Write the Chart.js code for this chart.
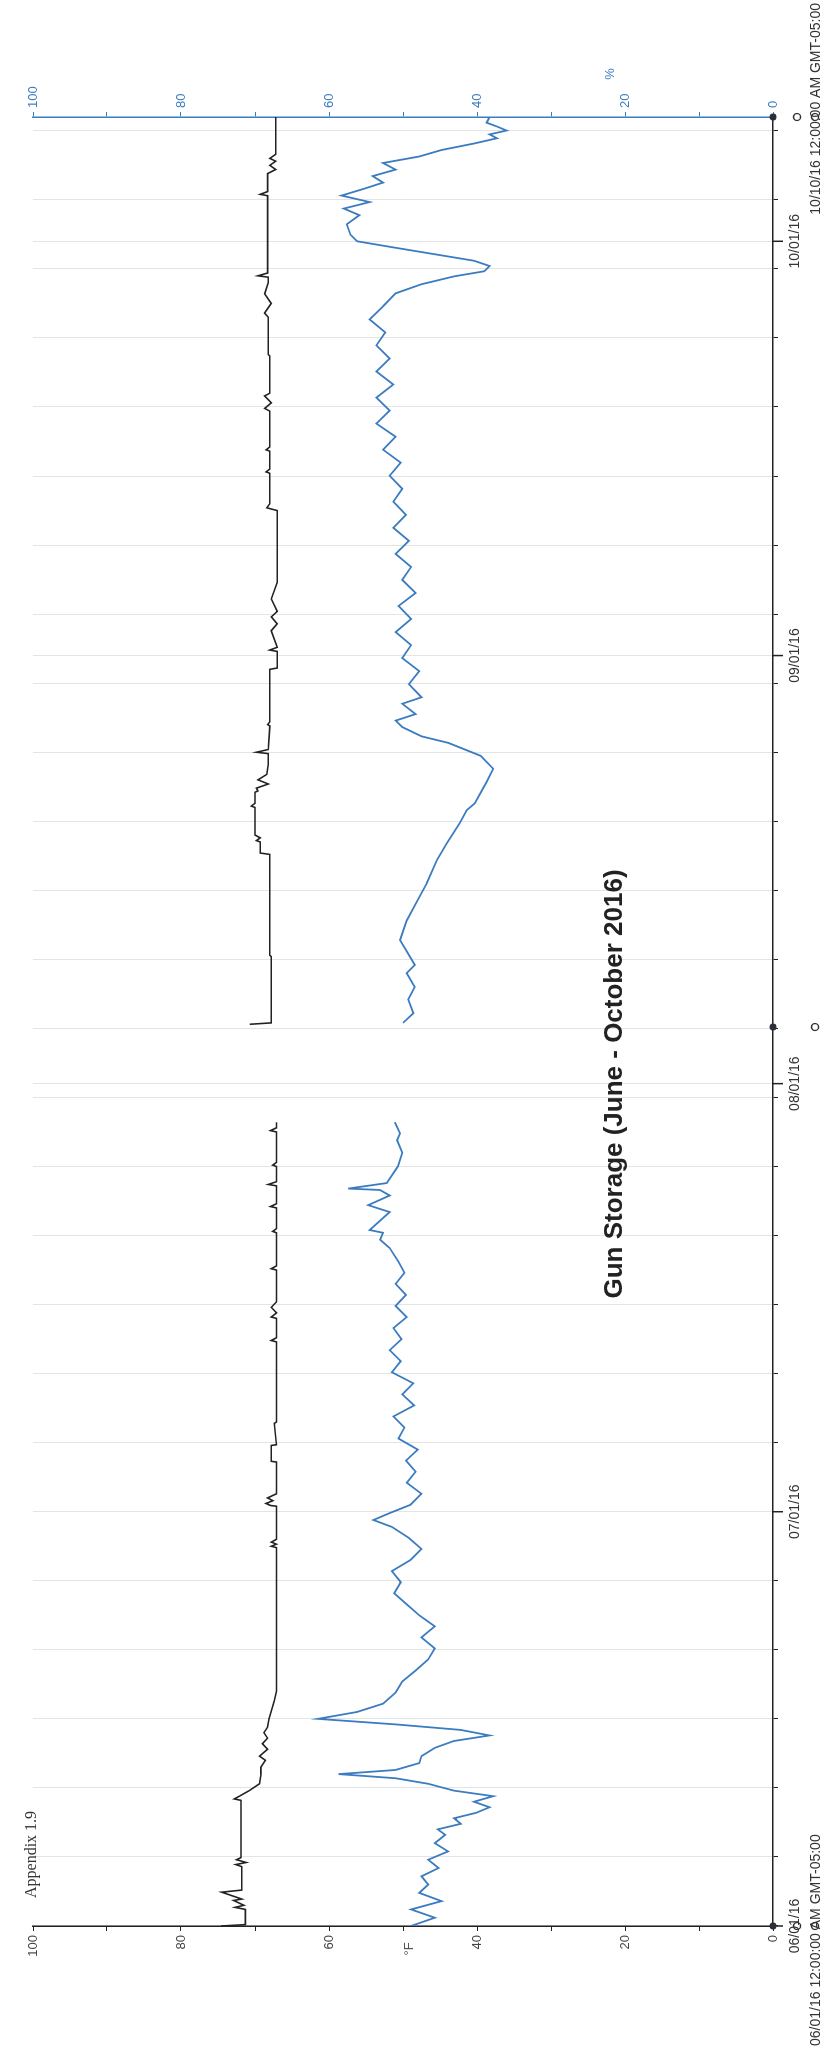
<!DOCTYPE html>
<html>
<head>
<meta charset="utf-8">
<title>Gun Storage (June - October 2016)</title>
<script src="https://cdn.jsdelivr.net/npm/chart.js@4.4.1/dist/chart.umd.min.js"></script>
<style>
    html, body { margin: 0; padding: 0; background: #fff; }
    body { width: 833px; height: 2049px; overflow: hidden; position: relative; }
    /* the chart is drawn landscape and turned a quarter turn, like the scanned page */
    #wrap {
        position: absolute; left: -608px; top: 608px;
        width: 2049px; height: 833px;
        transform: rotate(-90deg); transform-origin: 50% 50%;
    }
</style>
</head>
<body>
<div id="wrap"><canvas id="grafico" width="2049" height="833"></canvas></div>
<script>
// Days since 06/01/16 00:00, and readings
const tempDays1 = [0, 0.1, 1.2, 1.35, 1.5, 1.85, 1.95, 2.45, 2.6, 4.3, 4.45, 4.6, 4.8, 4.95, 9.1, 9.2, 9.4, 9.8, 10.3, 11, 11.5, 12, 12.3, 12.8, 13.2, 13.6, 14, 14.4, 15, 16.3, 17, 27.4, 27.5, 27.65, 27.8, 28, 30.4, 30.45, 30.6, 30.8, 31, 31.3, 33.6, 33.65, 34.8, 34.85, 36.4, 36.5, 42.3, 42.4, 42.6, 44, 44.1, 44.4, 44.8, 45.2, 47.5, 47.6, 47.8, 50.2, 50.3, 50.5, 52, 52.1, 52.3, 53.6, 53.7, 53.9, 55, 55.1, 55.3, 57.5, 57.6, 57.8, 58.2];
const tempValues1 = [74.6, 71.3, 71.3, 72.7, 71.5, 72.9, 71.8, 74.5, 71.8, 71.8, 72.6, 71.2, 72.5, 71.9, 71.9, 72.8, 72.1, 70.8, 69.4, 69.2, 69.2, 68.6, 69.4, 68.3, 69.0, 68.3, 68.8, 68.3, 68.1, 67.4, 67.1, 67.1, 67.8, 67.1, 67.8, 67.1, 67.1, 67.9, 68.5, 67.6, 68.3, 67.1, 67.1, 67.8, 67.8, 67.1, 67.4, 67.1, 67.1, 67.8, 67.1, 67.1, 67.8, 67.1, 67.8, 67.1, 67.1, 67.8, 67.1, 67.1, 67.6, 67.1, 67.1, 67.9, 67.1, 67.1, 68.2, 67.1, 67.1, 67.6, 67.1, 67.1, 67.9, 67.1, 67.1];

const tempDays2 = [65.3, 65.4, 70.2, 70.3, 77.6, 77.7, 78.5, 78.6, 78.8, 79, 81, 81.1, 81.3, 82.1, 82.2, 82.4, 82.7, 83, 83.4, 84.1, 84.9, 85, 85.2, 86.9, 87, 87.2, 91, 91.1, 92.3, 92.4, 92.6, 93.8, 94.3, 94.8, 95.2, 96.1, 97.3, 102.5, 102.7, 103, 105.2, 105.3, 105.5, 106.8, 106.9, 107.1, 109.7, 109.9, 110.3, 110.8, 111, 113.7, 113.8, 116.5, 116.8, 117.5, 118.2, 119, 119.4, 119.5, 119.7, 125.3, 125.4, 125.6, 126.9, 127.2, 127.5, 127.8, 128, 128.3, 131];
const tempValues2 = [70.7, 67.8, 67.8, 68.0, 68.0, 69.3, 69.3, 69.8, 69.3, 70.0, 70.0, 70.5, 70.0, 70.0, 69.6, 69.8, 68.2, 69.6, 68.4, 68.2, 68.2, 69.8, 68.2, 68.0, 68.3, 68.0, 68.0, 67.0, 67.0, 68.0, 67.0, 67.8, 67.0, 67.8, 67.0, 67.8, 67.0, 67.0, 68.4, 68.0, 68.0, 68.5, 68.0, 68.0, 68.5, 68.0, 68.0, 68.7, 67.8, 68.7, 68.0, 68.0, 68.2, 68.2, 68.7, 67.8, 68.7, 68.2, 68.2, 69.6, 68.3, 68.3, 69.3, 68.3, 68.3, 67.2, 68.0, 67.2, 68.0, 67.2, 67.2];

const rhDays1 = [0, 0.6, 1.2, 1.8, 2.4, 3.0, 3.6, 4.2, 4.8, 5.4, 6.0, 6.6, 7.0, 7.4, 7.8, 8.2, 8.6, 9.0, 9.4, 9.8, 10.3, 10.7, 11.0, 11.3, 11.8, 12.3, 12.9, 13.4, 13.8, 14.2, 14.6, 15.0, 15.5, 16.1, 16.9, 17.7, 18.5, 19.3, 20.1, 20.9, 21.7, 22.5, 23.3, 24.1, 24.9, 25.7, 26.5, 27.3, 28.1, 28.9, 29.4, 29.9, 30.5, 31.3, 32.1, 32.9, 33.7, 34.5, 35.3, 36.1, 36.9, 37.7, 38.5, 39.3, 40.1, 40.9, 41.7, 42.5, 43.3, 44.1, 44.9, 45.7, 46.5, 47.3, 48.1, 49.1, 49.7, 50.2, 50.4, 51.7, 52.2, 52.9, 53.3, 53.4, 53.8, 55.0, 56.0, 56.9, 57.4, 58.2];
const rhValues1 = [48.9, 45.7, 48.9, 44.8, 47.8, 46.6, 47.5, 45.2, 46.6, 43.9, 45.7, 44.3, 45.3, 42.2, 43.1, 40.1, 38.3, 40.4, 37.8, 43.1, 46.6, 51.0, 58.7, 51.0, 47.8, 47.5, 45.7, 43.1, 38.3, 42.2, 51.0, 61.5, 56.2, 52.7, 51.0, 50.1, 48.3, 46.6, 45.7, 47.5, 45.7, 47.8, 49.5, 51.2, 50.3, 51.5, 49.0, 47.5, 49.2, 51.5, 54.0, 51.8, 49.0, 47.5, 49.5, 48.3, 49.6, 48.0, 50.6, 49.8, 51.3, 48.5, 50.1, 48.6, 51.5, 50.3, 51.8, 50.2, 51.3, 49.5, 51.0, 49.6, 51.0, 49.8, 50.6, 51.8, 53.1, 52.7, 54.5, 51.8, 54.7, 51.8, 53.1, 57.4, 52.2, 50.7, 50.1, 50.8, 50.4, 51.1];

const rhDays2 = [65.4, 66.1, 67.1, 68.0, 69.0, 69.6, 71.4, 72.8, 74.3, 75.5, 77.2, 78.4, 79.9, 80.8, 81.3, 82.85, 83.8, 84.74, 85.68, 86.15, 86.82, 87.29, 87.76, 88.51, 88.98, 89.93, 90.87, 91.82, 92.76, 93.7, 94.65, 95.59, 96.53, 97.48, 98.42, 99.36, 100.31, 101.25, 102.19, 103.14, 104.08, 105.02, 105.97, 106.91, 107.85, 108.8, 109.74, 110.68, 111.63, 112.57, 113.51, 114.46, 115.4, 116.34, 117.29, 118.23, 118.89, 119.46, 119.83, 120.21, 120.59, 121.06, 121.53, 122.0, 122.48, 123.23, 123.89, 124.37, 124.84, 125.31, 125.78, 126.25, 126.72, 127.19, 127.67, 128.14, 128.61, 129.08, 129.46, 129.74, 130.02, 130.31, 130.59, 131];
const rhValues2 = [50.0, 48.6, 49.3, 48.4, 49.5, 48.4, 50.4, 49.5, 48.0, 46.8, 45.4, 44.1, 42.3, 41.4, 40.3, 38.7, 37.8, 39.5, 43.9, 47.5, 50.1, 51.0, 48.3, 50.1, 47.5, 49.2, 47.8, 50.1, 48.9, 51.0, 48.9, 50.6, 48.3, 50.1, 48.9, 51.0, 49.2, 51.3, 49.6, 51.3, 50.1, 51.8, 50.3, 52.7, 51.0, 53.6, 51.8, 53.6, 51.3, 53.6, 51.8, 53.6, 52.4, 54.5, 52.7, 51.0, 47.5, 43.1, 39.0, 38.3, 40.4, 45.7, 51.0, 56.2, 57.1, 57.6, 55.9, 58.0, 54.5, 58.3, 55.4, 52.7, 54.1, 51.0, 52.7, 47.8, 44.8, 40.4, 37.3, 38.3, 36.0, 37.3, 38.7, 38.3];

// Time axis: month starts (labelled) and a tick every 5 days
const monthDays = [0, 30, 61, 92, 122];
const monthLabels = ['06/01/16', '07/01/16', '08/01/16', '09/01/16', '10/01/16'];
const startLabel = '06/01/16 12:00:00 AM GMT-05:00';
const endLabel = '10/10/16 12:00:00 AM GMT-05:00';
const endDay = 131;
const breakDay = 65.1;
const valueTicks = [0, 20, 40, 60, 80, 100];

const FONTE = '"Liberation Sans", Arial, Helvetica, sans-serif';
const AZUL = '#3b7cc0';
const PRETO = '#222';

function juntarPontos(dias, valores) {
    return dias.map((d, i) => ({ x: d, y: valores[i] }));
}

const dadosTemp = juntarPontos(tempDays1, tempValues1)
    .concat([{ x: 61.8, y: null }], juntarPontos(tempDays2, tempValues2));
const dadosRH = juntarPontos(rhDays1, rhValues1)
    .concat([{ x: 61.8, y: null }], juntarPontos(rhDays2, rhValues2));

const tickDays = [];
for (let d = 0; d <= endDay; d += 5) tickDays.push(d);
monthDays.forEach(d => { if (!tickDays.includes(d)) tickDays.push(d); });
tickDays.sort((a, b) => a - b);

// Extra drawing: long month ticks, markers, free texts
const extras = {
    id: 'extras',
    afterDraw(chart) {
        const ctx = chart.ctx;
        const x = chart.scales.x;
        const area = chart.chartArea;
        ctx.save();

        // longer ticks on month starts
        ctx.strokeStyle = PRETO;
        ctx.lineWidth = 1.5;
        monthDays.forEach(d => {
            const px = x.getPixelForValue(d);
            ctx.beginPath();
            ctx.moveTo(px, area.bottom);
            ctx.lineTo(px, area.bottom + 10);
            ctx.stroke();
        });

        // filled dots on the time axis
        ctx.fillStyle = '#2a2f3a';
        [0, breakDay, endDay].forEach(d => {
            ctx.beginPath();
            ctx.arc(x.getPixelForValue(d), area.bottom, 3.5, 0, Math.PI * 2);
            ctx.fill();
        });

        // open circles in the label rows
        ctx.strokeStyle = '#333';
        ctx.lineWidth = 1.3;
        [[0, 797], [endDay, 797], [0, 815], [breakDay, 815], [endDay, 815]].forEach(([d, py]) => {
            ctx.beginPath();
            ctx.arc(x.getPixelForValue(d), py, 3.5, 0, Math.PI * 2);
            ctx.stroke();
        });

        // corner date labels
        ctx.fillStyle = '#333';
        ctx.font = '14px ' + FONTE;
        ctx.textBaseline = 'middle';
        ctx.textAlign = 'left';
        ctx.fillText(startLabel, 3, 816);
        ctx.textAlign = 'right';
        ctx.fillText(endLabel, 2046, 816);

        // axis titles
        ctx.textAlign = 'center';
        ctx.font = '13px ' + FONTE;
        ctx.fillStyle = '#555';
        ctx.fillText('°F', 100, 409);
        ctx.fillStyle = AZUL;
        ctx.fillText('%', 1975, 610);

        // chart title inside the plot
        ctx.fillStyle = '#222';
        ctx.font = 'bold 26px ' + FONTE;
        ctx.fillText('Gun Storage (June - October 2016)', 965, 615);

        // page header from the report
        ctx.textAlign = 'left';
        ctx.textBaseline = 'alphabetic';
        ctx.fillStyle = '#333';
        ctx.font = '16px "Liberation Serif", "Times New Roman", serif';
        ctx.fillText('Appendix 1.9', 151, 36);

        ctx.restore();
    }
};

function initGrafico() {
    const ctx = document.getElementById('grafico');
    return new Chart(ctx, {
        type: 'line',
        data: {
            datasets: [{
                label: '°F',
                data: dadosTemp,
                yAxisID: 'y',
                borderColor: PRETO,
                borderWidth: 1.6,
                pointRadius: 0,
                tension: 0,
                spanGaps: false
            }, {
                label: '%',
                data: dadosRH,
                yAxisID: 'y2',
                borderColor: AZUL,
                borderWidth: 1.8,
                pointRadius: 0,
                tension: 0,
                spanGaps: false
            }]
        },
        options: {
            responsive: false,
            animation: false,
            devicePixelRatio: 1,
            layout: { padding: { top: 33, left: 0, right: 0, bottom: 0 } },
            plugins: {
                legend: { display: false },
                title: { display: false },
                tooltip: { enabled: false }
            },
            scales: {
                x: {
                    type: 'linear',
                    position: 'bottom',
                    min: 0,
                    max: endDay,
                    afterFit: s => { s.height = 60; },
                    afterBuildTicks: s => { s.ticks = tickDays.map(v => ({ value: v })); },
                    ticks: {
                        autoSkip: false,
                        maxRotation: 0,
                        padding: 9,
                        color: '#333',
                        font: { family: FONTE, size: 14 },
                        callback: v => {
                            const i = monthDays.indexOf(v);
                            return i >= 0 ? monthLabels[i] : '';
                        }
                    },
                    grid: { color: '#e4e4e4', lineWidth: 1, tickColor: PRETO, tickLength: 5 },
                    border: { color: PRETO, width: 1.5 }
                },
                y: {
                    position: 'left',
                    min: 0,
                    max: 100,
                    afterFit: s => { s.width = 123; },
                    ticks: {
                        stepSize: 10,
                        padding: 4,
                        color: '#444',
                        font: { family: FONTE, size: 13 },
                        callback: v => valueTicks.includes(v) ? String(v) : ''
                    },
                    grid: { drawOnChartArea: false, tickColor: PRETO, tickLength: 5 },
                    border: { color: PRETO, width: 1.5 }
                },
                y2: {
                    position: 'right',
                    min: 0,
                    max: 100,
                    afterFit: s => { s.width = 117; },
                    ticks: {
                        stepSize: 10,
                        padding: 4,
                        color: AZUL,
                        font: { family: FONTE, size: 13 },
                        callback: v => valueTicks.includes(v) ? String(v) : ''
                    },
                    grid: { drawOnChartArea: false, tickColor: AZUL, tickLength: 5 },
                    border: { color: AZUL, width: 1.5 }
                }
            }
        },
        plugins: [extras]
    });
}

initGrafico();
</script>
</body>
</html>
